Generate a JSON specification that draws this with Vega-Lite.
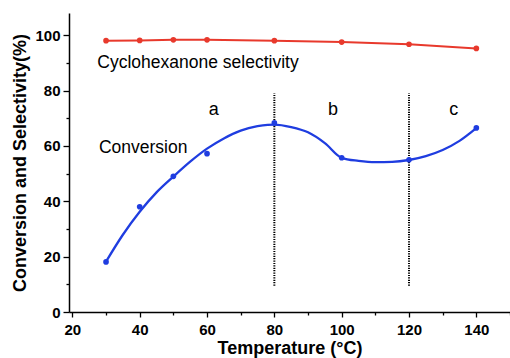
{
  "$schema": "https://vega.github.io/schema/vega-lite/v6.json",
  "width": 441,
  "height": 299,
  "autosize": "none",
  "padding": {"left": 69, "top": 13, "right": 0, "bottom": 46},
  "background": "white",
  "config": {
    "view": {"stroke": null},
    "font": "Liberation Sans",
    "axis": {
      "grid": false,
      "domainColor": "black",
      "domainWidth": 1.5,
      "tickColor": "black",
      "tickWidth": 1.3,
      "labelColor": "black",
      "labelFont": "Liberation Sans",
      "labelFontSize": 15,
      "labelFontWeight": "bold",
      "labelOverlap": false,
      "labelFlush": false,
      "titleColor": "black",
      "titleFont": "Liberation Sans",
      "titleFontSize": 18,
      "titleFontWeight": "bold"
    }
  },
  "datasets": {
    "conv": [
      {"T": 30, "value": 18.1},
      {"T": 40, "value": 38.0},
      {"T": 50, "value": 49.0},
      {"T": 60, "value": 57.2},
      {"T": 80, "value": 68.3},
      {"T": 100, "value": 55.7},
      {"T": 120, "value": 55.0},
      {"T": 140, "value": 66.5}
    ],
    "fit": [
      {"T": 30, "value": 18.2},
      {"T": 35, "value": 27.9},
      {"T": 40, "value": 36.2},
      {"T": 45, "value": 43.2},
      {"T": 50, "value": 48.9},
      {"T": 55, "value": 54.3},
      {"T": 60, "value": 59.0},
      {"T": 65, "value": 62.7},
      {"T": 70, "value": 65.5},
      {"T": 75, "value": 67.1},
      {"T": 78, "value": 67.6},
      {"T": 80, "value": 67.7},
      {"T": 85, "value": 66.8},
      {"T": 90, "value": 64.9},
      {"T": 95, "value": 61.0},
      {"T": 100, "value": 55.7},
      {"T": 105, "value": 54.6},
      {"T": 110, "value": 54.1},
      {"T": 115, "value": 54.2},
      {"T": 120, "value": 54.9},
      {"T": 125, "value": 56.3},
      {"T": 130, "value": 58.5},
      {"T": 135, "value": 61.8},
      {"T": 140, "value": 66.4}
    ],
    "sel": [
      {"T": 30, "value": 98.0},
      {"T": 40, "value": 98.1},
      {"T": 50, "value": 98.3},
      {"T": 60, "value": 98.3},
      {"T": 80, "value": 98.0},
      {"T": 100, "value": 97.5},
      {"T": 120, "value": 96.7},
      {"T": 140, "value": 95.2}
    ],
    "dividers": [
      {"T": 80, "value": 9.5, "value2": 79},
      {"T": 120, "value": 9.5, "value2": 79}
    ],
    "notes": [
      {"T": 27.4, "value": 88.1, "label": "Cyclohexanone selectivity"},
      {"T": 27.9, "value": 57.3, "label": "Conversion"}
    ],
    "letters": [
      {"T": 62.0, "value": 71.0, "label": "a"},
      {"T": 97.4, "value": 71.0, "label": "b"},
      {"T": 133.3, "value": 71.0, "label": "c"}
    ]
  },
  "encoding": {
    "x": {
      "field": "T",
      "type": "quantitative",
      "title": "Temperature (°C)",
      "scale": {"domain": [19, 150], "nice": false, "zero": false},
      "axis": {
        "values": [20, 30, 40, 50, 60, 70, 80, 90, 100, 110, 120, 130, 140, 150],
        "labelExpr": "datum.value % 20 == 0 && datum.value < 150 ? datum.label : ''",
        "tickSize": {"condition": {"test": "datum.value % 20 == 0", "value": 5}, "value": 3},
        "labelPadding": 5,
        "titlePadding": 2
      }
    },
    "y": {
      "field": "value",
      "type": "quantitative",
      "title": "Conversion and Selectivity(%)",
      "scale": {"domain": [0, 108], "nice": false},
      "axis": {
        "values": [0, 10, 20, 30, 40, 50, 60, 70, 80, 90, 100],
        "labelExpr": "datum.value % 20 == 0 ? datum.label : ''",
        "tickSize": {"condition": {"test": "datum.value % 20 == 0", "value": 6}, "value": 3},
        "labelPadding": 3,
        "titlePadding": 5
      }
    }
  },
  "layer": [
    {
      "data": {"values": [{}]},
      "mark": {"type": "rule", "color": "black", "strokeWidth": 1.5},
      "encoding": {
        "x": {"datum": 19},
        "x2": {"datum": 150},
        "y": {"datum": 108}
      }
    },
    {
      "data": {"name": "dividers"},
      "mark": {"type": "rule", "color": "black", "strokeWidth": 2, "strokeDash": [1.2, 1.2]},
      "encoding": {"y2": {"field": "value2"}}
    },
    {
      "data": {"name": "sel"},
      "mark": {"type": "line", "color": "#e8392c", "strokeWidth": 2},
      "encoding": {}
    },
    {
      "data": {"name": "sel"},
      "mark": {"type": "circle", "color": "#e8392c", "size": 32, "opacity": 1},
      "encoding": {}
    },
    {
      "data": {"name": "fit"},
      "mark": {"type": "line", "color": "#1f3de0", "strokeWidth": 2.3, "interpolate": "monotone"},
      "encoding": {}
    },
    {
      "data": {"name": "conv"},
      "mark": {"type": "circle", "color": "#1f3de0", "size": 32, "opacity": 1},
      "encoding": {}
    },
    {
      "data": {"name": "notes"},
      "mark": {"type": "text", "align": "left", "baseline": "alphabetic", "fontSize": 17.5, "font": "Liberation Sans", "color": "black"},
      "encoding": {"text": {"field": "label"}}
    },
    {
      "data": {"name": "letters"},
      "mark": {"type": "text", "align": "center", "baseline": "alphabetic", "fontSize": 18, "font": "Liberation Sans", "color": "black"},
      "encoding": {"text": {"field": "label"}}
    }
  ]
}
